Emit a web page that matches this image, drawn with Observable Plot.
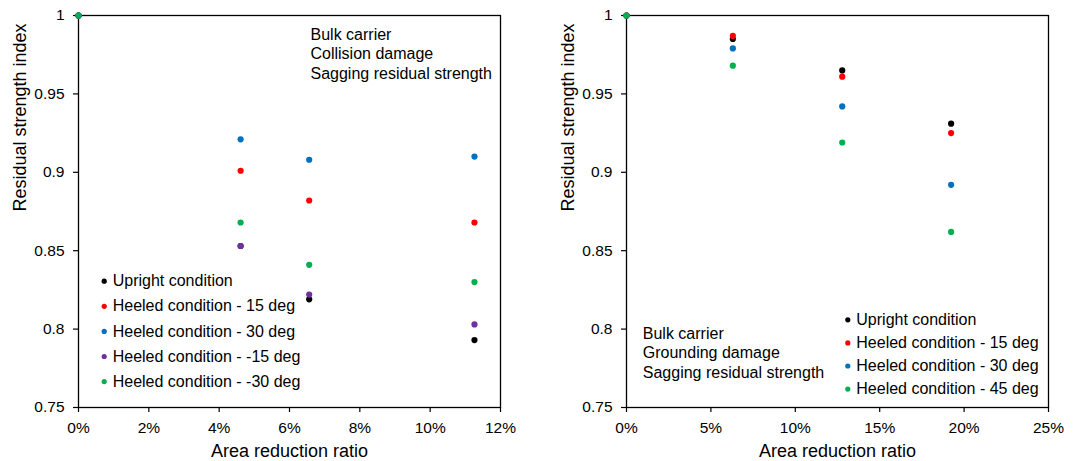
<!DOCTYPE html>
<html><head><meta charset="utf-8">
<script src="https://cdn.jsdelivr.net/npm/d3@7"></script>
<script src="https://cdn.jsdelivr.net/npm/@observablehq/plot@0.6"></script>
<style>
body{margin:0;background:#fff;}
#wrap{width:1083px;height:461px;display:flex;}
#wrap svg{display:block;}
</style>
</head><body>
<div id="wrap"></div>
<script>
// ---------- data ----------
const collisionX = [0, 0.0461, 0.0656, 0.1126];
const collisionUpright = [1, 0.853, 0.819, 0.793];
const collisionHeel15 = [1, 0.901, 0.882, 0.868];
const collisionHeel30 = [1, 0.921, 0.908, 0.910];
const collisionHeelM15 = [1, 0.853, 0.822, 0.803];
const collisionHeelM30 = [1, 0.868, 0.841, 0.830];
const collisionSeries = ["Upright condition", "Heeled condition - 15 deg", "Heeled condition - 30 deg", "Heeled condition - -15 deg", "Heeled condition - -30 deg"];
const collisionColors = ["#000000", "#FF0000", "#0070C0", "#7030A0", "#00B050"];
const collisionNote = ["Bulk carrier", "Collision damage", "Sagging residual strength"];

const groundingX = [0, 0.063, 0.1278, 0.1923];
const groundingUpright = [1, 0.985, 0.965, 0.931];
const groundingHeel15 = [1, 0.987, 0.961, 0.925];
const groundingHeel30 = [1, 0.979, 0.942, 0.892];
const groundingHeel45 = [1, 0.968, 0.919, 0.862];
const groundingSeries = ["Upright condition", "Heeled condition - 15 deg", "Heeled condition - 30 deg", "Heeled condition - 45 deg"];
const groundingColors = ["#000000", "#FF0000", "#0070C0", "#00B050"];
const groundingNote = ["Bulk carrier", "Grounding damage", "Sagging residual strength"];

const yTicks = [0.75, 0.8, 0.85, 0.9, 0.95, 1];
const xTicksLeft = [0, 0.02, 0.04, 0.06, 0.08, 0.10, 0.12];
const xTicksRight = [0, 0.05, 0.10, 0.15, 0.20, 0.25];
const xLabel = "Area reduction ratio";
const yLabel = "Residual strength index";

function rowsOf(xs, seriesNames, valueLists) {
  return seriesNames.flatMap((s, i) => xs.map((x, j) => ({series: s, x, y: valueLists[i][j]})));
}

const collisionRows = rowsOf(collisionX, collisionSeries,
  [collisionUpright, collisionHeel15, collisionHeel30, collisionHeelM15, collisionHeelM30]);
const groundingRows = rowsOf(groundingX, groundingSeries,
  [groundingUpright, groundingHeel15, groundingHeel30, groundingHeel45]);

const font = "'Liberation Sans', Arial, sans-serif";

function panel({rows, series, colors, note, xTicks, xDomain, width, marginLeft, marginRight,
                legendDx, legendDy, legendStep, noteDx, noteDy, noteStep}) {
  const color = {domain: series, range: colors};
  return Plot.plot({
    width, height: 461,
    marginLeft, marginRight, marginTop: 15, marginBottom: 54,
    style: {fontFamily: font, fontSize: "15px", color: "#000", background: "#fff"},
    x: {domain: xDomain},
    y: {domain: [0.75, 1]},
    color,
    marks: [
      Plot.frame({stroke: "#000", strokeWidth: 1.3}),
      Plot.axisY({ticks: yTicks, tickFormat: d => String(d), tickSize: 5, tickPadding: 9, label: null, fontSize: 15.5, stroke: "#000", strokeWidth: 1.2}),
      Plot.axisX({ticks: xTicks, tickFormat: d3.format(".0%"), tickSize: 5, tickPadding: 9, label: null, fontSize: 15.5, stroke: "#000", strokeWidth: 1.2}),
      Plot.text([yLabel], {frameAnchor: "left", dx: -58, rotate: -90, fontSize: 18, lineAnchor: "middle", text: d => d}),
      Plot.text([xLabel], {frameAnchor: "bottom", dy: 44, fontSize: 18, lineAnchor: "middle", text: d => d}),
      ...note.map((t, i) => Plot.text([t], {frameAnchor: "top-left", dx: noteDx, dy: noteDy + i * noteStep, textAnchor: "start", lineAnchor: "middle", fontSize: 16, text: d => d})),
      ...series.map((s, i) => Plot.dot([s], {frameAnchor: "top-left", dx: legendDx, dy: legendDy + i * legendStep, r: 2.6, fill: colors[i], stroke: null})),
      ...series.map((s, i) => Plot.text([s], {frameAnchor: "top-left", dx: legendDx + 8.5, dy: legendDy + i * legendStep, textAnchor: "start", lineAnchor: "middle", fontSize: 16, text: d => d})),
      Plot.dot(rows, {x: "x", y: "y", fill: "series", r: 3.1, stroke: null})
    ]
  });
}

const wrap = document.getElementById("wrap");
wrap.append(panel({
  rows: collisionRows, series: collisionSeries, colors: collisionColors, note: collisionNote,
  xTicks: xTicksLeft, xDomain: [0, 0.12], width: 542, marginLeft: 78, marginRight: 42,
  legendDx: 25.7, legendDy: 265.7, legendStep: 25.1, noteDx: 232, noteDy: 19.3, noteStep: 19.3
}));
wrap.append(panel({
  rows: groundingRows, series: groundingSeries, colors: groundingColors, note: groundingNote,
  xTicks: xTicksRight, xDomain: [0, 0.25], width: 541, marginLeft: 84, marginRight: 35,
  legendDx: 221.3, legendDy: 304.3, legendStep: 23.1, noteDx: 16.3, noteDy: 318.3, noteStep: 19.5
}));
</script>
</body></html>
